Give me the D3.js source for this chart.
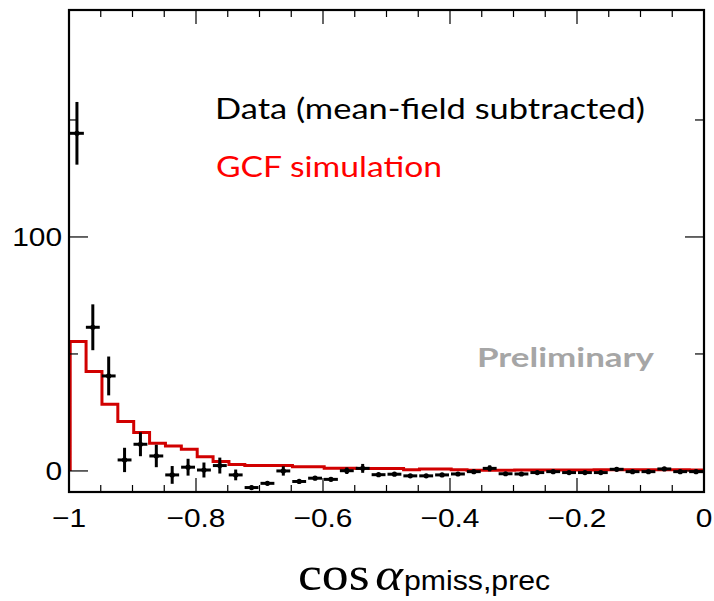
<!DOCTYPE html>
<html><head><meta charset="utf-8">
<script src="https://cdn.jsdelivr.net/npm/d3@7"></script>
<style>body{margin:0;background:#fff}svg{display:block}</style>
</head><body>
<svg id="c" width="714" height="601"></svg>
<script>
// ---- data ----
const binEdgesStart = -1, binWidth = 0.025, nBins = 40;
const gcfValues = [55.3, 42.5, 28.5, 21.1, 16.4, 11.8, 10.7, 9.3, 6.1, 4.0,
  2.8, 2.3, 2.3, 2.3, 1.8, 1.8, 1.1, 1.1, 1.0, 1.0,
  1.0, 0.5, 0.8, 0.8, 0.5, 0.3, 0.3, 0.3, 0.4, 0.4,
  0.4, 0.4, 0.4, 0.5, 0.5, 0.5, 0.5, 0.5, 0.5, 0.4];
const dataValues = [144.3, 61.4, 40.6, 4.7, 11.4, 6.4, -1.7, 1.6, 0.4, 2.3,
  -1.7, -7.1, -5.3, 0.0, -4.5, -3.1, -3.6, 0.1, 1.1, -1.6,
  -1.4, -2.1, -2.1, -1.7, -1.3, -0.3, 1.1, -1.2, -1.3, -0.7,
  -0.3, -0.7, -0.7, -0.7, 0.7, -0.3, -0.3, 0.85, -0.3, -0.3];
const dataErrors = [13.4, 9.8, 8.3, 5.2, 5.1, 4.8, 3.8, 3.6, 3.2, 3.4,
  2.3, 0.8, 0.8, 2.0, 0.6, 0.8, 0.8, 1.4, 1.9, 0.6,
  0.6, 0.5, 0.5, 0.5, 0.5, 0.6, 1.3, 0.5, 0.5, 0.5,
  0.5, 0.5, 0.5, 0.5, 0.8, 0.5, 0.5, 0.8, 0.5, 0.5];
const xTickValues = [-1, -0.8, -0.6, -0.4, -0.2, 0];
const xTickLabels = ["\u22121", "\u22120.8", "\u22120.6", "\u22120.4", "\u22120.2", "0"];
const yTickValues = [0, 100];
const yTickLabels = ["0", "100"];
const legendTexts = ["Data (mean-field subtracted)", "GCF simulation"];
const prelimText = "Preliminary";

// ---- layout ----
const L = 69, R = 704, T = 10, B = 492;
const svg = d3.select("#c");
const x = d3.scaleLinear().domain([-1, 0]).range([L, R]);
const y = d3.scaleLinear().domain([-9, 197]).range([B, T]);

const bins = d3.range(nBins).map(i => ({
  x0: binEdgesStart + i * binWidth,
  x1: binEdgesStart + (i + 1) * binWidth,
  g: gcfValues[i], d: dataValues[i], e: dataErrors[i]
}));

svg.append("clipPath").attr("id", "pc").append("rect")
  .attr("x", L).attr("y", T).attr("width", R - L).attr("height", B - T);

// GCF histogram (step)
const pts = [[x(-1), y(0)]];
bins.forEach(b => { pts.push([x(b.x0), y(b.g)]); pts.push([x(b.x1), y(b.g)]); });
pts.push([x(0), y(0)]);
svg.append("path").attr("clip-path", "url(#pc)")
  .attr("d", d3.line()(pts.map(p => [p[0] + 1.2, p[1]])))
  .attr("fill", "none").attr("stroke", "#d10000").attr("stroke-width", 3);

// Data points
const dg = svg.append("g").attr("clip-path", "url(#pc)");
bins.forEach(b => {
  const cx = x((b.x0 + b.x1) / 2), cy = y(b.d);
  dg.append("line").attr("x1", x(b.x0) + 1).attr("x2", x(b.x1) - 1).attr("y1", cy).attr("y2", cy)
    .attr("stroke", "#000").attr("stroke-width", 3);
  dg.append("line").attr("x1", cx).attr("x2", cx).attr("y1", y(b.d + b.e)).attr("y2", y(b.d - b.e))
    .attr("stroke", "#000").attr("stroke-width", 3);
  dg.append("circle").attr("cx", cx).attr("cy", cy).attr("r", 2.6).attr("fill", "#000");
});

// Axes ticks
const axG = svg.append("g");
const xMinor = d3.range(-1, 0.0001, 0.05).map(v => +v.toFixed(3));
xMinor.forEach(v => {
  const major = Math.abs(Math.round(v * 5) - v * 5) < 1e-6;
  const len = major ? 14 : 7;
  axG.append("line").attr("x1", x(v)).attr("x2", x(v)).attr("y1", B).attr("y2", B - len).attr("stroke", "#000").attr("stroke-width", 1.2);
  axG.append("line").attr("x1", x(v)).attr("x2", x(v)).attr("y1", T).attr("y2", T + len).attr("stroke", "#000").attr("stroke-width", 1.2);
});
[0, 50, 100, 150].forEach(v => {
  const len = (v % 100 === 0) ? 19 : 9;
  axG.append("line").attr("x1", L).attr("x2", L + len).attr("y1", y(v)).attr("y2", y(v)).attr("stroke", "#000").attr("stroke-width", 1.2);
  axG.append("line").attr("x1", R).attr("x2", R - len).attr("y1", y(v)).attr("y2", y(v)).attr("stroke", "#000").attr("stroke-width", 1.2);
});
svg.append("rect").attr("x", L).attr("y", T).attr("width", R - L).attr("height", B - T)
  .attr("fill", "none").attr("stroke", "#000").attr("stroke-width", 2.2);

// Tick labels
xTickValues.forEach((v, i) => {
  svg.append("text").attr("transform", `translate(${x(v)},${527}) scale(1.15,1)`)
    .attr("text-anchor", "middle").style("font-family", "'Liberation Sans', Arial, sans-serif")
    .attr("font-size", 26).text(xTickLabels[i]);
});
yTickValues.forEach((v, i) => {
  svg.append("text").attr("transform", `translate(62,${y(v) + 9.5}) scale(1.15,1)`)
    .attr("text-anchor", "end").style("font-family", "'Liberation Sans', Arial, sans-serif")
    .attr("font-size", 26).text(yTickLabels[i]);
});

// X title
const tt = svg.append("text").attr("transform", "translate(298,590) scale(1.12,1)");
tt.append("tspan").style("font-family", "'Liberation Serif', serif").style("font-weight", "normal").attr("font-size", 48).text("cos");
tt.append("tspan").style("font-family", "'Liberation Serif', serif").style("font-style", "italic").attr("font-size", 47).attr("dx", 5).text("\u03B1");
tt.append("tspan").style("font-family", "'Liberation Sans', Arial, sans-serif").attr("font-size", 27).attr("dx", 1).text("pmiss,prec");

// Legend texts
svg.append("text").attr("x", 215).attr("y", 119).style("font-family", "Lato, 'Open Sans', sans-serif")
  .attr("font-size", 29).attr("fill", "#000").attr("textLength", 430).attr("lengthAdjust", "spacingAndGlyphs").text(legendTexts[0]);
svg.append("text").attr("x", 216).attr("y", 177).style("font-family", "Lato, 'Open Sans', sans-serif")
  .attr("font-size", 29).attr("fill", "#ff0000").attr("textLength", 226).attr("lengthAdjust", "spacingAndGlyphs").text(legendTexts[1]);
svg.append("text").attr("x", 477).attr("y", 367).style("font-family", "Lato, 'Open Sans', sans-serif")
  .attr("font-weight", "bold").attr("font-size", 26).attr("fill", "#a6a6a6").attr("textLength", 177).attr("lengthAdjust", "spacingAndGlyphs").text(prelimText);
</script>
</body></html>
